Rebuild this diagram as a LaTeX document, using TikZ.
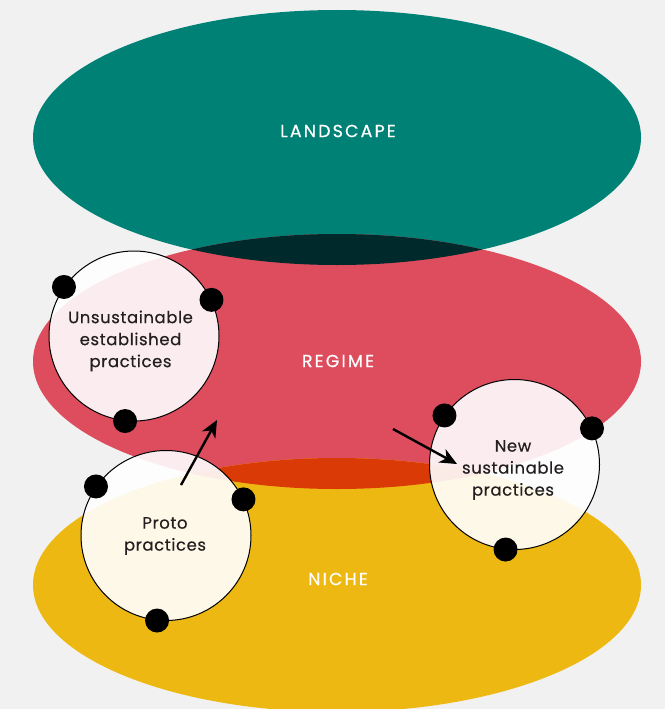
\documentclass[tikz,border=0pt]{standalone}
\usepackage{fontspec}
\setmainfont{Poppins}
\newfontfamily\labelfont{Poppins}[LetterSpace=12, FakeBold=0.6]
\newfontfamily\bodyfont{Poppins}[LetterSpace=3.5, FakeBold=0.35]
\usetikzlibrary{arrows.meta}
\definecolor{bg}{HTML}{F1F1F1}
\definecolor{teal}{HTML}{008176}
\definecolor{regred}{HTML}{DD4D5E}
\definecolor{nicheyel}{HTML}{EEB812}
\definecolor{darkov}{HTML}{00292C}
\definecolor{orangeov}{HTML}{DA3A06}
\definecolor{txt}{HTML}{231F20}
\tikzset{
  layerlabel/.style={text=white, font=\labelfont\fontsize{17.5}{20}\selectfont},
  practice/.style={circle, draw=black, line width=1pt, fill=white, fill opacity=0.9,
     minimum size=170pt, inner sep=0pt},
  practicetext/.style={align=center, text=txt, inner sep=0pt, font=\bodyfont\fontsize{16.5}{22}\selectfont},
  dot/.style={circle, fill=black, minimum size=24pt, inner sep=0pt},
  flow/.style={line width=2.4pt, -{Stealth[length=17pt,width=15pt,inset=5pt]}}
}
\begin{document}
\begin{tikzpicture}[x=1pt,y=-1pt]
\fill[bg] (0,0) rectangle (665,709);
\useasboundingbox (0,0) rectangle (665,709);
\coordinate (Lc) at (337,137.5);
\coordinate (Rc) at (337,361.5);
\coordinate (Nc) at (337,585);
\fill[teal] (Lc) ellipse [x radius=304, y radius=127.5];
\fill[regred] (Rc) ellipse [x radius=304, y radius=127.5];
\fill[nicheyel] (Nc) ellipse [x radius=304, y radius=127];
\begin{scope}
  \clip (Lc) ellipse [x radius=304, y radius=127.5];
  \fill[darkov] (Rc) ellipse [x radius=304, y radius=127.5];
\end{scope}
\begin{scope}
  \clip (Rc) ellipse [x radius=304, y radius=127.5];
  \fill[orangeov] (Nc) ellipse [x radius=304, y radius=127];
\end{scope}
\node[layerlabel] (landscape) at (338,131) {LANDSCAPE};
\node[layerlabel] (regime) at (338,361) {REGIME};
\node[layerlabel] (niche) at (338,579) {NICHE};

\node[practice] (unsus) at (134,336) {};
\node[practice] (newp) at (514.5,464.5) {};
\node[practice] (proto) at (166,535.5) {};
\node[practicetext] (unsus-t) at (130.5,341) {Unsustainable\\established\\practices};
\node[practicetext] (newp-t) at (513,470) {New\\sustainable\\practices};
\node[practicetext] (proto-t) at (165,536) {Proto\\practices};

\foreach \c in {unsus,newp,proto}{
  \node[dot] (\c-a) at (\c.145) {};
  \node[dot] (\c-b) at (\c.25) {};
  \node[dot] (\c-c) at (\c.264.5) {};
}

\coordinate (a1s) at (181,485);
\coordinate (a1e) at (217,420);
\coordinate (a2s) at (393,429);
\coordinate (a2e) at (457,464);
\draw[flow] (a1s) -- (a1e);
\draw[flow] (a2s) -- (a2e);
\end{tikzpicture}
\end{document}
